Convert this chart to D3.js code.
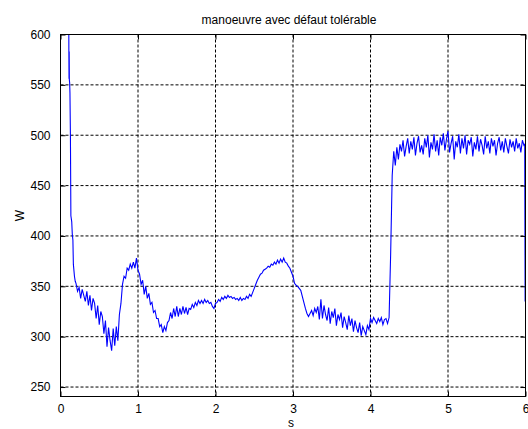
<!DOCTYPE html>
<html>
<head>
<meta charset="utf-8">
<script src="https://cdn.jsdelivr.net/npm/d3@7"></script>
<style>
  html, body { margin: 0; padding: 0; background: #fff; }
  svg { display: block; }
  text { font-family: Arial, "Liberation Sans", sans-serif; fill: #000; }
</style>
</head>
<body>
<svg id="chart" width="528" height="429"></svg>
<script>
// Power demand during the manoeuvre (W) against time (s)

const titleText = "manoeuvre avec défaut tolérable";
const xLabel = "s";
const yLabel = "W";
const xTicks = [0, 1, 2, 3, 4, 5, 6];
const yTicks = [250, 300, 350, 400, 450, 500, 550, 600];

// start-up transient, irregularly sampled
const headT = [0.105, 0.107, 0.108, 0.110, 0.112, 0.114, 0.118, 0.122, 0.128, 0.134, 0.145, 0.152, 0.160, 0.166, 0.180, 0.190];
const headW = [640, 610, 583, 556, 583, 555, 552, 542, 500, 420, 414, 402, 396, 372, 360, 355];

// regular record: first sample at 0.20 s, one sample every 0.02 s
const sampleStart = 0.20;
const sampleStep = 0.02;
const sampleW = [
  // 0.20 - 0.38
  353, 345, 349, 338, 347, 341, 335, 345, 331, 341,
  // 0.40 - 0.58
  326, 338, 333, 318, 331, 312, 325, 320, 303, 316,
  // 0.60 - 0.78
  290, 309, 296, 286, 308, 291, 310, 296, 322, 333,
  // 0.80 - 0.98
  352, 360, 358, 368, 366, 372, 368, 374, 368, 378,
  // 1.00 - 1.18
  366, 362, 352, 356, 342, 350, 338, 343, 332, 334,
  // 1.20 - 1.38
  324, 326, 318, 318, 310, 312, 304, 310, 306, 314,
  // 1.40 - 1.58
  316, 324, 318, 328, 320, 330, 320, 328, 322, 330,
  // 1.60 - 1.78
  323, 329, 322, 328, 327, 332, 329, 334, 331, 336,
  // 1.80 - 1.98
  333, 336, 333, 337, 334, 336, 333, 334, 330, 328,
  // 2.00 - 2.18
  333, 334, 337, 335, 339, 337, 340, 338, 341, 339,
  // 2.20 - 2.38
  340, 338, 339, 337, 338, 336, 339, 336, 338, 337,
  // 2.40 - 2.58
  340, 338, 342, 340, 344, 348, 352, 356, 359, 362,
  // 2.60 - 2.78
  363, 366, 367, 368, 370, 369, 372, 371, 374, 372,
  // 2.80 - 2.98
  376, 373, 377, 374, 378, 374, 373, 370, 368, 364,
  // 3.00 - 3.18
  360, 353, 351, 350, 348, 346, 340, 334, 328, 323,
  // 3.20 - 3.38
  320, 323, 326, 321, 328, 324, 330, 317, 337, 318,
  // 3.40 - 3.58
  331, 322, 316, 329, 313, 325, 319, 328, 311, 322,
  // 3.60 - 3.78
  317, 324, 309, 320, 314, 307, 321, 311, 318, 305,
  // 3.80 - 3.98
  316, 309, 304, 314, 301, 310, 306, 302, 311, 307,
  // 4.00 - 4.18
  318, 314, 319, 316, 313, 318, 315, 319, 312, 317,
  // 4.20 - 4.38
  318, 313, 319, 382, 460, 484, 470, 488, 476, 491,
  // 4.40 - 4.58
  484, 495, 479, 489, 497, 482, 494, 486, 498, 480,
  // 4.60 - 4.78
  492, 499, 483, 490, 481, 497, 488, 500, 478, 493,
  // 4.80 - 4.98
  486, 501, 484, 495, 480, 498, 490, 502, 485, 496,
  // 5.00 - 5.18
  504, 483, 492, 499, 476, 494, 488, 501, 482, 497,
  // 5.20 - 5.38
  487, 500, 481, 495, 491, 498, 479, 493, 486, 499,
  // 5.40 - 5.58
  484, 496, 490, 481, 499, 487, 494, 482, 497, 489,
  // 5.60 - 5.78
  495, 480, 492, 498, 485, 494, 483, 497, 489, 482,
  // 5.80 - 5.98
  496, 488, 494, 484, 497, 487, 492, 483, 495, 490
];

// end of record: sharp drop at the last instant
const tailT = [5.990, 5.995];
const tailW = [491, 335];

const series = [];
headT.forEach((t, i) => series.push([t, headW[i]]));
sampleW.forEach((w, i) => series.push([+(sampleStart + i * sampleStep).toFixed(3), w]));
tailT.forEach((t, i) => series.push([t, tailW[i]]));

const svg = d3.select("#chart");
const plotL = 60.5, plotR = 525.5, plotT = 34.5, plotB = 396.5;

const x = d3.scaleLinear().domain([0, 6]).range([plotL, plotR]);
const y = d3.scaleLinear().domain([240.6, 600]).range([plotB, plotT]);

svg.append("defs").append("clipPath").attr("id", "plot-area")
  .append("rect").attr("x", plotL).attr("y", plotT)
  .attr("width", plotR - plotL).attr("height", plotB - plotT);

// dotted grid
const grid = svg.append("g").attr("stroke", "#000").attr("stroke-width", 1)
  .attr("stroke-dasharray", "3,2").attr("fill", "none");
xTicks.filter(t => t > 0 && t < 6).forEach(t => {
  grid.append("line").attr("x1", x(t)).attr("x2", x(t)).attr("y1", plotT).attr("y2", plotB);
});
yTicks.filter(t => t < 600).forEach(t => {
  grid.append("line").attr("x1", plotL).attr("x2", plotR).attr("y1", y(t)).attr("y2", y(t));
});

// signal trace
svg.append("path")
  .datum(series)
  .attr("clip-path", "url(#plot-area)")
  .attr("fill", "none")
  .attr("stroke", "#0000ff")
  .attr("stroke-width", 1.1)
  .attr("d", d3.line().x(d => x(d[0])).y(d => y(d[1])));

// axes: ticks inward on every side
const tickLen = 5;
const bottomAxis = d3.axisBottom(x).tickValues(xTicks).tickFormat(d3.format("d"))
  .tickSizeInner(-tickLen).tickSizeOuter(0).tickPadding(8);
const topAxis = d3.axisTop(x).tickValues(xTicks).tickSizeInner(-tickLen).tickSizeOuter(0).tickFormat("");
const leftAxis = d3.axisLeft(y).tickValues(yTicks).tickFormat(d3.format("d"))
  .tickSizeInner(-tickLen).tickSizeOuter(0).tickPadding(10);
const rightAxis = d3.axisRight(y).tickValues(yTicks).tickSizeInner(-tickLen).tickSizeOuter(0).tickFormat("");

function styleAxis(g) {
  g.select(".domain").remove();
  g.selectAll(".tick line").attr("stroke", "#000");
  g.selectAll(".tick text").attr("font-size", 12).attr("font-family", "Arial, 'Liberation Sans', sans-serif").attr("fill", "#000");
}
svg.append("g").attr("transform", `translate(0,${plotB})`).call(bottomAxis).call(styleAxis);
svg.append("g").attr("transform", `translate(0,${plotT})`).call(topAxis).call(styleAxis);
svg.append("g").attr("transform", `translate(${plotL},0)`).call(leftAxis).call(styleAxis);
svg.append("g").attr("transform", `translate(${plotR},0)`).call(rightAxis).call(styleAxis);

// frame
svg.append("rect").attr("x", plotL).attr("y", plotT)
  .attr("width", plotR - plotL).attr("height", plotB - plotT)
  .attr("fill", "none").attr("stroke", "#000").attr("stroke-width", 1);

// labels
svg.append("text").attr("x", 289).attr("y", 24).attr("text-anchor", "middle")
  .attr("font-size", 12).text(titleText);
svg.append("text").attr("x", (plotL + plotR) / 2 - 2).attr("y", 427).attr("text-anchor", "middle")
  .attr("font-size", 12).text(xLabel);
svg.append("text").attr("transform", `translate(24,${(plotT + plotB) / 2}) rotate(-90)`)
  .attr("text-anchor", "middle").attr("font-size", 12).text(yLabel);
</script>
</body>
</html>
